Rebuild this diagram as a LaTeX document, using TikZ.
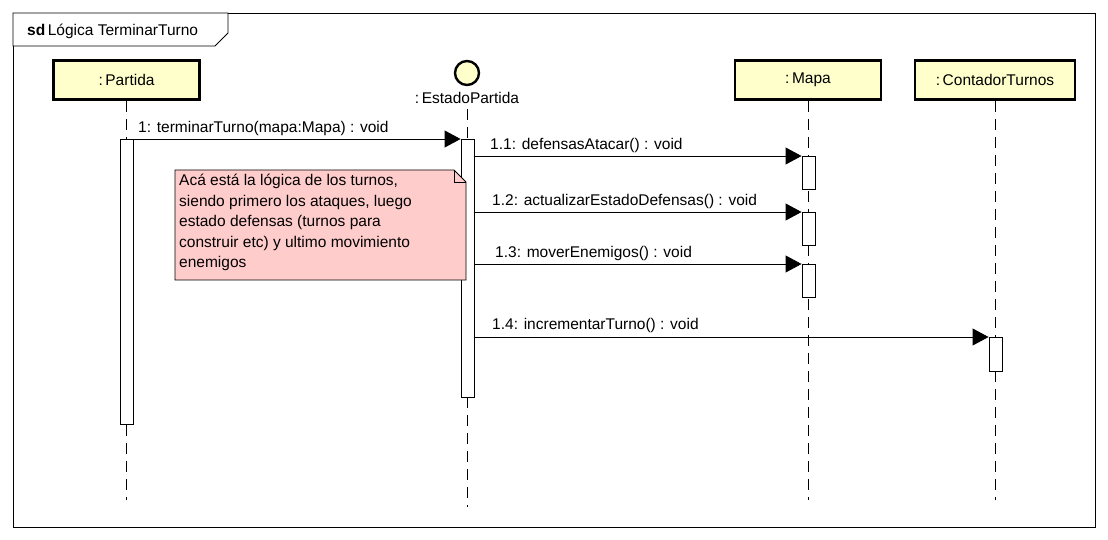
\documentclass[tikz,border=0pt]{standalone}
\usepackage{fontspec}
\setmainfont{Liberation Sans}
\usetikzlibrary{arrows.meta,shapes.misc}
\definecolor{objfill}{HTML}{FFFFCC}
\definecolor{notefill}{HTML}{FFCCCC}
\tikzset{
  objbox/.style={draw,line width=2.6pt,fill=objfill,minimum width=146pt,minimum height=39pt,inner sep=0pt,font=\fontsize{15.5}{18}\selectfont},
  actbox/.style={draw,line width=0.9pt,fill=white,minimum width=13pt,inner sep=0pt},
  lifeline/.style={line width=1pt,dash pattern=on 11pt off 7pt},
  msg/.style={line width=0.9pt,-{Triangle[length=16pt,width=17pt]}},
  msglbl/.style={anchor=base west,inner sep=0pt,font=\fontsize{15.5}{18}\selectfont},
}
\begin{document}
\begin{tikzpicture}[x=1pt,y=-1pt]
\useasboundingbox (0,0) rectangle (1108,540);
% frame
\draw[line width=0.9pt] (13,13) rectangle (1095,527);
\draw[line width=0.9pt,fill=white] (13,13) -- (228,13) -- (228,33) -- (215,46) -- (13,46) -- cycle;
\node[anchor=base west,inner sep=0pt,font=\fontsize{15.5}{18}\selectfont] (title) at (27,36) {\textbf{sd}\,Lógica TerminarTurno};
% objects
\node[objbox] (partida) at (126.5,80) {:\,Partida};
\node[objbox] (mapa) at (808,80) {:\,Mapa};
\node[objbox,minimum width=160pt] (contador) at (995,80) {:\,ContadorTurnos};
\node[circle,draw,line width=2.4pt,fill=objfill,minimum size=24pt,inner sep=0pt] (estado) at (467,73) {};
\node[inner sep=0pt,anchor=base,font=\fontsize{15.5}{18}\selectfont] (estadolbl) at (467,104) {:\,EstadoPartida};
% lifeline ends
\coordinate (endP) at (126.5,500);
\coordinate (endE) at (467,507);
\coordinate (endM) at (808,500);
\coordinate (endC) at (995,500);
\draw[lifeline] (partida.south) -- (endP);
\draw[lifeline] (estadolbl.south |- 0,109) -- (endE);
\draw[lifeline] (mapa.south) -- (endM);
\draw[lifeline] (contador.south) -- (endC);
% activations
\node[actbox,minimum height=285pt,anchor=north] (actP) at (126.5,139) {};
\node[actbox,minimum height=258pt,anchor=north] (actE) at (467.5,139) {};
\node[actbox,minimum height=33pt,anchor=north] (actM1) at (808.5,156) {};
\node[actbox,minimum height=33pt,anchor=north] (actM2) at (808.5,212) {};
\node[actbox,minimum height=33pt,anchor=north] (actM3) at (808.5,264) {};
\node[actbox,minimum height=34pt,anchor=north] (actC) at (995.5,337) {};
% messages
\draw[msg] (actP.north east) -- (actE.north west);
\node[msglbl] (l1) at (138,133) {1: terminarTurno(mapa:Mapa) : void};
\draw[msg] (actE.east |- actM1.north) -- (actM1.north west);
\node[msglbl] (l11) at (490,150) {1.1: defensasAtacar() : void};
\draw[msg] (actE.east |- actM2.north) -- (actM2.north west);
\node[msglbl] (l12) at (492,206) {1.2: actualizarEstadoDefensas() : void};
\draw[msg] (actE.east |- actM3.north) -- (actM3.north west);
\node[msglbl] (l13) at (495,257) {1.3: moverEnemigos() : void};
\draw[msg] (actE.east |- actC.north) -- (actC.north west);
\node[msglbl] (l14) at (492,329) {1.4: incrementarTurno() : void};
% note
\draw[line width=0.9pt,fill=notefill] (175,170) -- (454,170) -- (466,182) -- (466,280) -- (175,280) -- cycle;
\draw[line width=0.9pt] (454,170) -- (454,182) -- (466,182);
\node[anchor=north west,inner sep=0pt,align=left,font=\fontsize{15.5}{20.5}\selectfont] (note) at (179,174) {Acá está la lógica de los turnos,\\siendo primero los ataques, luego\\estado defensas (turnos para\\construir etc) y ultimo movimiento\\enemigos};
\end{tikzpicture}
\end{document}
